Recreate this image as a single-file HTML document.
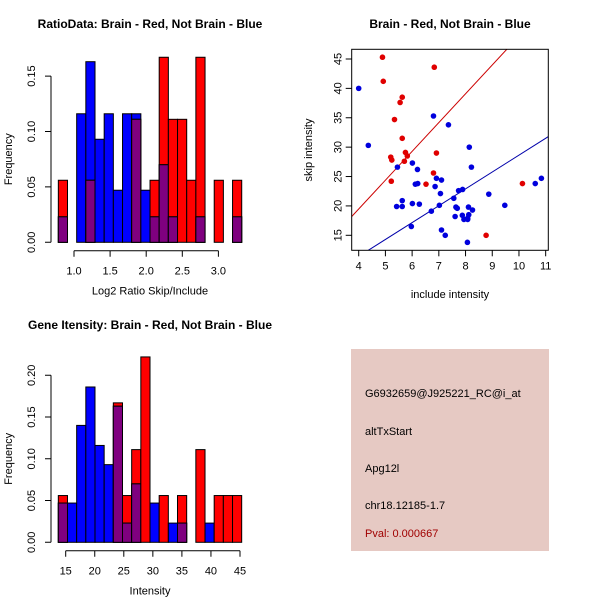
<!DOCTYPE html>
<html><head><meta charset="utf-8"><style>
body{margin:0;background:#fff}
svg{display:block;font-family:"Liberation Sans",sans-serif}
</style></head><body>
<svg id="s" width="600" height="600" viewBox="0 0 600 600">
<rect width="600" height="600" fill="#fff"/>
<g id="h1"></g>
<g id="sc"></g>
<g id="h2"></g>
<g>
<rect x="351" y="349" width="198" height="202" fill="#e6c9c3"/>
<text x="365" y="397" font-size="11" fill="#000">G6932659@J925221_RC@i_at</text>
<text x="365" y="435" font-size="11" fill="#000">altTxStart</text>
<text x="365" y="472" font-size="11" fill="#000">Apg12l</text>
<text x="365" y="509" font-size="11" fill="#000">chr18.12185-1.7</text>
<text x="365" y="537" font-size="11" fill="#a00000">Pval: 0.000667</text>
</g>
</svg>
<script>
// Histogram 1 data
const h1Start = 0.783, h1Width = 0.127;
const h1Red  = [0.056,0,0,0.056,0,0,0,0,0.111,0,0.056,0.167,0.111,0.111,0.056,0.167,0,0.056,0,0.056];
const h1Blue = [0.023,0,0.116,0.163,0.093,0.116,0.047,0.116,0.116,0.047,0.023,0.07,0.023,0,0,0.023,0,0,0,0.023];
const h1XTicks = [1.0,1.5,2.0,2.5,3.0];
const h1YTicks = [0.00,0.05,0.10,0.15];
// Histogram 2 data
const h2Start = 13.73, h2Width = 1.578;
const h2Red  = [0.056,0,0,0,0,0,0.167,0.056,0.111,0.222,0,0.056,0,0.056,0,0.111,0,0.056,0.056,0.056];
const h2Blue = [0.047,0.047,0.14,0.186,0.116,0.093,0.163,0.023,0.07,0,0.047,0,0.023,0.023,0,0,0.023,0,0,0];
const h2XTicks = [15,20,25,30,35,40,45];
const h2YTicks = [0.00,0.05,0.10,0.15,0.20];
// Scatter data
const redX = [4.89,4.92,6.83,5.63,5.55,5.34,5.63,5.75,5.82,5.20,5.24,5.71,6.91,6.80,5.22,6.52,10.13,8.77];
const redY = [45.3,41.2,43.6,38.5,37.6,34.7,31.5,29.1,28.5,28.3,27.8,27.6,29.0,25.6,24.2,23.7,23.8,15.0];
const blueX = [4.00,4.36,6.80,7.36,5.45,6.01,6.20,8.14,8.22,6.91,7.10,6.12,6.21,6.86,7.74,7.89,7.06,7.56,5.63,8.87,5.42,5.63,6.01,6.27,7.02,9.47,7.64,7.69,8.11,8.26,6.72,8.12,7.61,7.88,8.08,7.94,8.08,5.97,7.10,7.24,8.07,10.61,10.84];
const blueY = [40.0,30.3,35.3,33.8,26.6,27.3,26.2,30.0,26.6,24.7,24.4,23.7,23.8,23.3,22.6,22.8,22.1,21.3,20.9,22.0,19.9,19.9,20.4,20.3,20.1,20.1,19.8,19.6,19.8,19.3,19.1,18.5,18.2,18.4,17.9,17.7,17.7,16.5,15.9,15.0,13.8,23.8,24.7];
const redFit = [-0.12, 4.90];
const blueFit = [-0.06, 2.87];
const scXTicks = [4,5,6,7,8,9,10,11];
const scYTicks = [15,20,25,30,35,40,45];

const NS="http://www.w3.org/2000/svg";
function mk(parent,tag,attrs,text){const e=document.createElementNS(NS,tag);for(const k in attrs)e.setAttribute(k,attrs[k]);if(text!==undefined)e.textContent=text;parent.appendChild(e);return e;}

function hist(g,o){
  const xs=v=>o.x0+(v-o.xv0)*o.kx, ys=v=>o.y0-v*o.ky;
  const t=mk(g,'text',{x:o.tx,y:o.ty,'font-size':12,'font-weight':'bold','text-anchor':'middle'},o.title);
  
  
  for(let i=0;i<o.red.length;i++){
    const a=xs(o.start+i*o.w), b=xs(o.start+(i+1)*o.w), r=o.red[i], bl=o.blue[i];
    const seq=r>=bl?[['red',r],['blue',bl]]:[['blue',bl],['red',r]];
    seq.forEach(([c,v])=>{ if(v>0){const e=mk(g,'rect',{x:a,y:ys(v),width:b-a,height:ys(0)-ys(v),fill:c==='red'?'#ff0000':'#0000ff',stroke:'#000','stroke-width':1});
      
      }});
    const m=Math.min(r,bl);
    if(m>0){const e=mk(g,'rect',{x:a,y:ys(m),width:b-a,height:ys(0)-ys(m),fill:'#7f007f',stroke:'#000','stroke-width':1});
      
      }
  }
  const xa=mk(g,'path',{d:`M${xs(o.xt[0])},${o.axY}H${xs(o.xt[o.xt.length-1])}`+o.xt.map(v=>`M${xs(v)},${o.axY}v6`).join(''),stroke:'#000',fill:'none'});
  
  
  o.xt.forEach(v=>{const e=mk(g,'text',{x:xs(v),y:o.axY+24,'font-size':11,'text-anchor':'middle'},o.xfmt(v));
    
    });
  const ya=mk(g,'path',{d:`M${o.axX},${ys(o.yt[0])}V${ys(o.yt[o.yt.length-1])}`+o.yt.map(v=>`M${o.axX},${ys(v)}h-6`).join(''),stroke:'#000',fill:'none'});
  
  
  o.yt.forEach(v=>{const e=mk(g,'text',{x:0,y:0,'font-size':11,'text-anchor':'middle',transform:`translate(${o.axX-16},${ys(v)}) rotate(-90)`},v.toFixed(2));
    
    });
  const xt=mk(g,'text',{x:o.tx,y:o.axY+44,'font-size':11,'text-anchor':'middle'},o.xlab);
  
  
  const yt=mk(g,'text',{x:0,y:0,'font-size':11,'text-anchor':'middle',transform:`translate(12,${(ys(0)+ys(o.yt[o.yt.length-1]))/2}) rotate(-90)`},'Frequency');
  
  
}
hist(document.getElementById('h1'),{x0:74,xv0:1.0,kx:72.2,y0:242.3,ky:1108,start:h1Start,w:h1Width,red:h1Red,blue:h1Blue,xt:h1XTicks,yt:h1YTicks,axY:250.7,axX:51,tx:150,ty:28,title:'RatioData: Brain - Red, Not Brain - Blue',xlab:'Log2 Ratio Skip/Include',xfmt:v=>v.toFixed(1)});
hist(document.getElementById('h2'),{x0:65.7,xv0:15,kx:5.81,y0:542.3,ky:835,start:h2Start,w:h2Width,red:h2Red,blue:h2Blue,xt:h2XTicks,yt:h2YTicks,axY:550.7,axX:51,tx:150,ty:329,title:'Gene Itensity: Brain - Red, Not Brain - Blue',xlab:'Intensity',xfmt:v=>String(v)});

(function(){
  const g=document.getElementById('sc');
  const L=351.7,R=548.3,T=49.3,B=250.3;
  const xs=v=>358.7+(v-4)*26.71, ys=v=>235.3-(v-15)*5.877;
  const t=mk(g,'text',{x:450,y:28,'font-size':12,'font-weight':'bold','text-anchor':'middle'},'Brain - Red, Not Brain - Blue');
  
  
  const clip=mk(g,'clipPath',{id:'cp'});mk(clip,'rect',{x:L,y:T,width:R-L,height:B-T});
  [[redFit,'#cc0000','fit-line-brain'],[blueFit,'#0000aa','fit-line-not-brain']].forEach(([f,c,n])=>{
    const e=mk(g,'line',{x1:xs(3.5),y1:ys(f[0]+f[1]*3.5),x2:xs(11.5),y2:ys(f[0]+f[1]*11.5),stroke:c,'stroke-width':1,'clip-path':'url(#cp)'});
    
    
  });
  redX.forEach((x,i)=>{const e=mk(g,'circle',{cx:xs(x),cy:ys(redY[i]),r:2.8,fill:'#e00000'});
    
    });
  blueX.forEach((x,i)=>{const e=mk(g,'circle',{cx:xs(x),cy:ys(blueY[i]),r:2.8,fill:'#0000dd'});
    
    });
  const box=mk(g,'rect',{x:L,y:T,width:R-L,height:B-T,fill:'none',stroke:'#000'});
  
  
  scXTicks.forEach(v=>{const p=mk(g,'path',{d:`M${xs(v)},${B}v6`,stroke:'#000'});
    
    
    const e=mk(g,'text',{x:xs(v),y:B+19,'font-size':11,'text-anchor':'middle'},String(v));
    
    });
  scYTicks.forEach(v=>{const p=mk(g,'path',{d:`M${L},${ys(v)}h-6`,stroke:'#000'});
    
    
    const e=mk(g,'text',{x:0,y:0,'font-size':11,'text-anchor':'middle',transform:`translate(${L-10},${ys(v)}) rotate(-90)`},String(v));
    
    });
  const xt=mk(g,'text',{x:450,y:298,'font-size':11,'text-anchor':'middle'},'include intensity');
  
  
  const yt=mk(g,'text',{x:0,y:0,'font-size':11,'text-anchor':'middle',transform:`translate(312,150) rotate(-90)`},'skip intensity');
  
  
})();
</script>
</body></html>
